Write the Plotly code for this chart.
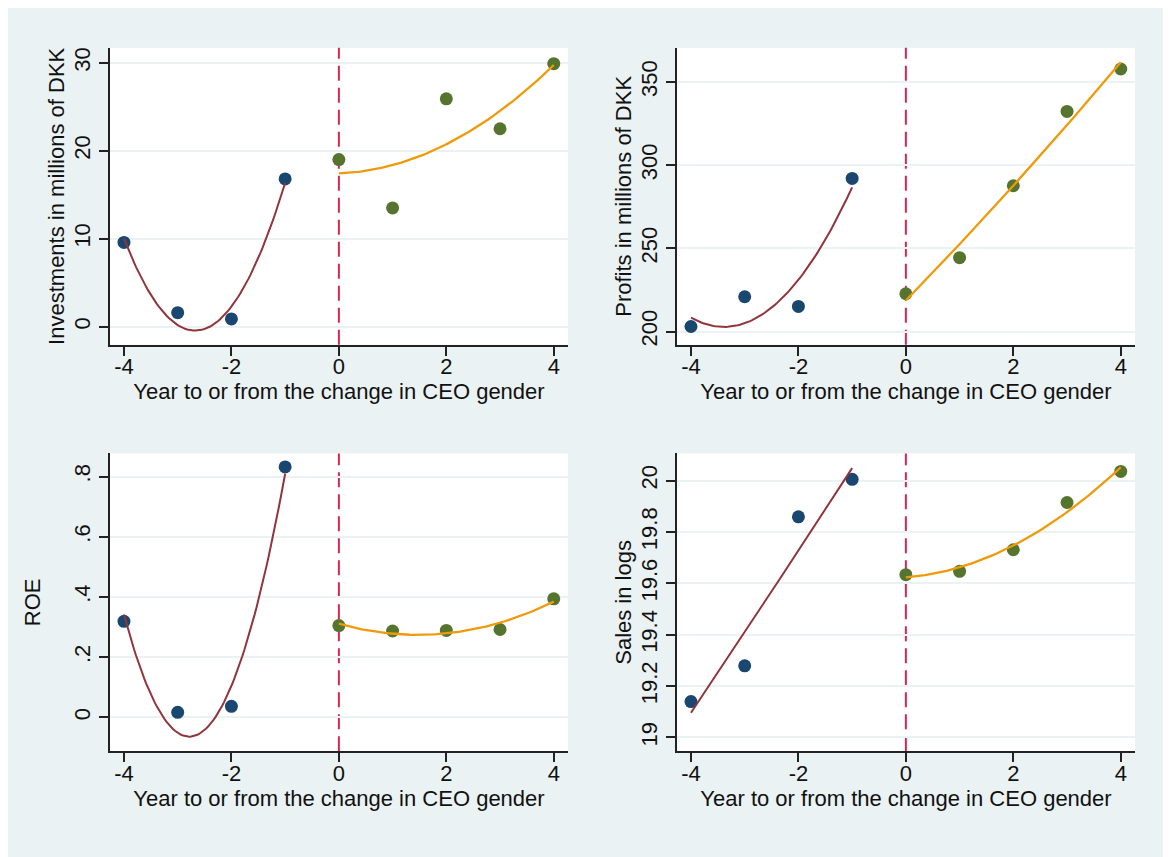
import numpy as np
import plotly.graph_objects as go

W, H = 1171, 857
OFF = 8  # page margin added by the browser around the figure
FW, FH = W - OFF, H - OFF

# ---- data ----
years_before = [-4, -3, -2, -1]
years_after = [0, 1, 2, 3, 4]

invest_before = [9.57, 1.58, 0.87, 16.8]
invest_after = [19.0, 13.5, 25.9, 22.5, 29.9]

profit_before = [203.0, 220.9, 215.1, 292.0]
profit_after = [222.7, 244.4, 287.6, 332.3, 357.8]

roe_before = [0.319, 0.0166, 0.0365, 0.832]
roe_after = [0.305, 0.287, 0.289, 0.292, 0.394]

sales_before = [19.140, 19.279, 19.859, 20.005]
sales_after = [19.634, 19.647, 19.731, 19.915, 20.036]

x_ticks = [-4, -2, 0, 2, 4]
x_ticklabels = ["-4", "-2", "0", "2", "4"]
x_title = "Year to or from the change in CEO gender"

panels = [
    dict(before=invest_before, after=invest_after,
         title="Investments in millions of DKK", tstand=0,
         ytick=[0, 10, 20, 30], yticklab=["0", "10", "20", "30"],
         yrange=[-2.07, 31.7], px=(110, 568), py=(47, 345)),
    dict(before=profit_before, after=profit_after,
         title="Profits in millions of DKK", tstand=0,
         ytick=[200, 250, 300, 350], yticklab=["200", "250", "300", "350"],
         yrange=[192.0, 370.5], px=(677, 1135), py=(47, 345)),
    dict(before=roe_before, after=roe_after,
         title="ROE", tstand=24,
         ytick=[0, 0.2, 0.4, 0.6, 0.8], yticklab=["0", ".2", ".4", ".6", ".8"],
         yrange=[-0.113, 0.877], px=(110, 568), py=(454, 753)),
    dict(before=sales_before, after=sales_after,
         title="Sales in logs", tstand=0,
         ytick=[19, 19.2, 19.4, 19.6, 19.8, 20],
         yticklab=["19", "19.2", "19.4", "19.6", "19.8", "20"],
         yrange=[18.946, 20.106], px=(677, 1135), py=(454, 753)),
]

NAVY = "#1a476f"
MAROON = "#90353b"
GREEN = "#55752f"
ORANGE = "#ee9a0a"
DASH = "#d42a52"
BG = "#eaf2f3"
FONT = "Liberation Sans, Arial, sans-serif"

fig = go.Figure()

for i, p in enumerate(panels, start=1):
    xa = "x" if i == 1 else f"x{i}"
    ya = "y" if i == 1 else f"y{i}"
    # quadratic fits (qfit) of the plotted points
    cb = np.polyfit(years_before, p["before"], 2)
    ca = np.polyfit(years_after, p["after"], 2)
    gb = np.linspace(min(years_before), max(years_before), 80)
    ga = np.linspace(min(years_after), max(years_after), 80)

    fig.add_trace(go.Scatter(x=years_before, y=p["before"], mode="markers",
                             marker=dict(color=NAVY, size=13, line=dict(width=0)),
                             xaxis=xa, yaxis=ya, showlegend=False, cliponaxis=False))
    fig.add_trace(go.Scatter(x=years_after, y=p["after"], mode="markers",
                             marker=dict(color=GREEN, size=13, line=dict(width=0)),
                             xaxis=xa, yaxis=ya, showlegend=False, cliponaxis=False))
    fig.add_trace(go.Scatter(x=gb, y=np.polyval(cb, gb), mode="lines",
                             line=dict(color=MAROON, width=2),
                             xaxis=xa, yaxis=ya, showlegend=False))
    fig.add_trace(go.Scatter(x=ga, y=np.polyval(ca, ga), mode="lines",
                             line=dict(color=ORANGE, width=2.3),
                             xaxis=xa, yaxis=ya, showlegend=False))

    x0, x1 = p["px"]
    y0, y1 = p["py"]
    axis_common = dict(showline=True, linecolor="#222", linewidth=1.5,
                       ticks="outside", ticklen=9, tickwidth=1.5, tickcolor="#222",
                       zeroline=False,
                       tickfont=dict(family=FONT, size=22, color="#111"))
    fig.layout[f"xaxis{'' if i == 1 else i}"] = dict(
        domain=[(x0 - OFF) / FW, (x1 - OFF) / FW], anchor=ya,
        range=[-4.26, 4.265], tickvals=x_ticks, ticktext=x_ticklabels,
        showgrid=False, ticklabelstandoff=-8,
        title=dict(text=x_title, font=dict(family=FONT, size=22, color="#111"), standoff=0),
        **axis_common)
    fig.layout[f"yaxis{'' if i == 1 else i}"] = dict(
        domain=[1 - (y1 - OFF) / FH, 1 - (y0 - OFF) / FH], anchor=xa,
        range=p["yrange"], tickvals=p["ytick"], ticktext=p["yticklab"],
        tickangle=-90, showgrid=True, gridcolor=BG, gridwidth=1.5,
        title=dict(text=p["title"], font=dict(family=FONT, size=22, color="#111"),
                   standoff=p["tstand"]),
        **axis_common)
    fig.add_shape(type="line", xref=xa, yref=f"{ya} domain", x0=0, x1=0, y0=0, y1=1,
                  line=dict(color=DASH, width=2, dash="15px,7px"), layer="below")

fig.update_layout(width=FW, height=FH, margin=dict(l=0, r=0, t=0, b=0),
                  paper_bgcolor=BG, plot_bgcolor="white",
                  font=dict(family=FONT, color="#111"))

fig.write_html("out.html")
